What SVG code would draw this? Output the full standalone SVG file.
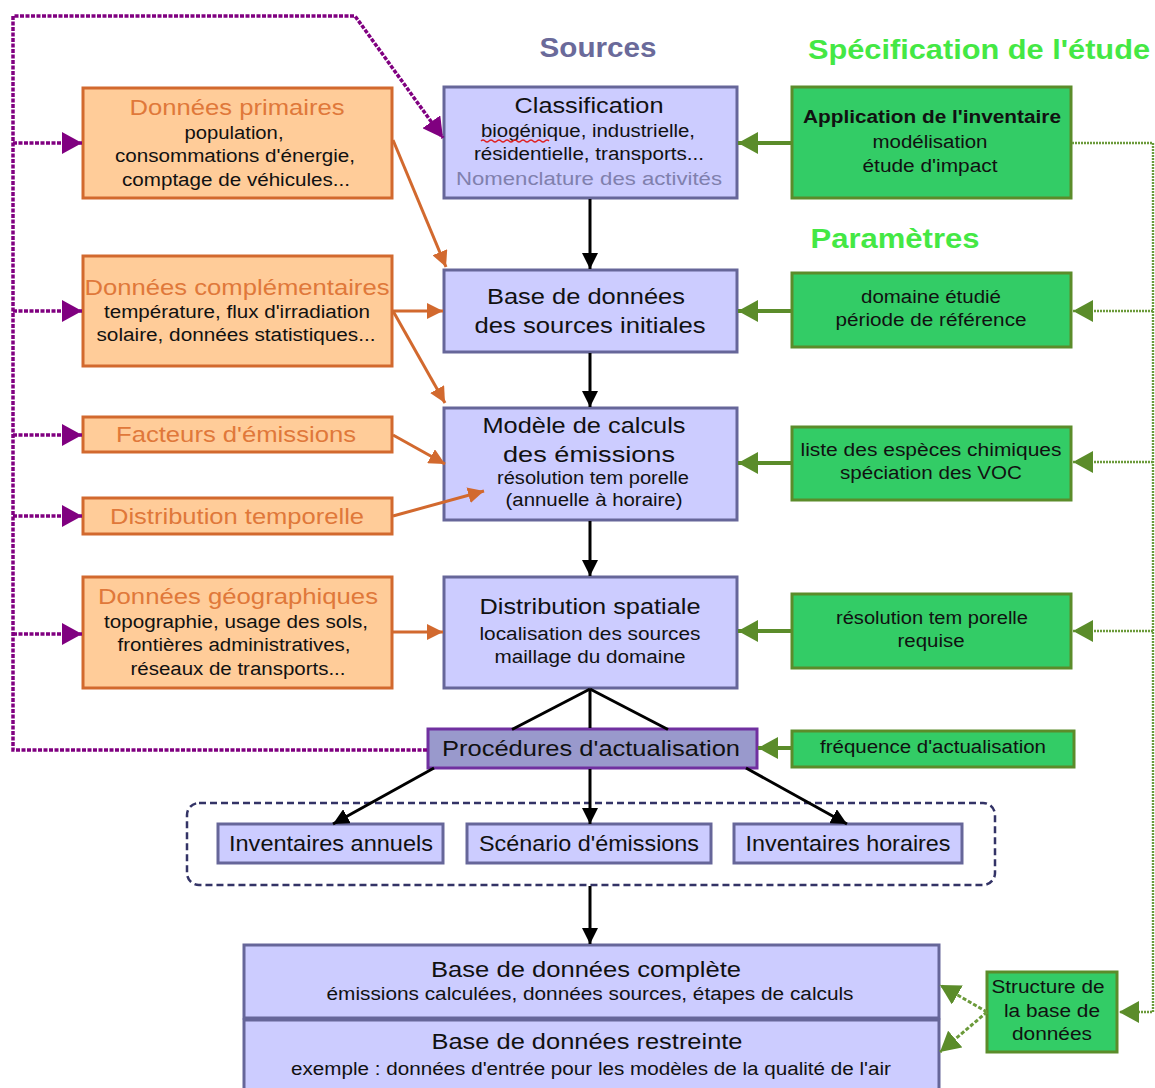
<svg xmlns="http://www.w3.org/2000/svg" width="1155" height="1088" viewBox="0 0 1155 1088">
<style>
text{font-family:"Liberation Sans",Arial,sans-serif;text-anchor:middle;fill:#111}
.ti{font-size:22px}
.sm{font-size:18px}
.ot{fill:#e0783a}
.orange{fill:#ffcc99;stroke:#d2692e;stroke-width:3}
.blue{fill:#ccccff;stroke:#666699;stroke-width:3}
.green{fill:#33cc66;stroke:#5b8c2a;stroke-width:3}
.pl{fill:none;stroke:#800080;stroke-width:3.5;stroke-dasharray:4 1.5}
.gl{fill:none;stroke:#6b9a3a;stroke-width:2.4;stroke-dasharray:2 1}
.ga{fill:none;stroke:#5b8c2a;stroke-width:4}
.ba{fill:none;stroke:#000;stroke-width:3}
.oa{fill:none;stroke:#d2692e;stroke-width:3}
.gd{fill:none;stroke:#6b9a3a;stroke-width:3;stroke-dasharray:4 2}
</style>
<defs>
<marker id="mp" markerUnits="userSpaceOnUse" markerWidth="20" markerHeight="22" refX="20" refY="11" orient="auto"><path d="M0,0 L20,11 L0,22 z" fill="#800080"/></marker>
<marker id="mg" markerUnits="userSpaceOnUse" markerWidth="20" markerHeight="22" refX="20" refY="11" orient="auto"><path d="M0,0 L20,11 L0,22 z" fill="#5b8c2a"/></marker>
<marker id="mb" markerUnits="userSpaceOnUse" markerWidth="16" markerHeight="16" refX="16" refY="8" orient="auto"><path d="M0,0 L16,8 L0,16 z" fill="#000"/></marker>
<marker id="mo" markerUnits="userSpaceOnUse" markerWidth="16" markerHeight="16" refX="16" refY="8" orient="auto"><path d="M0,0 L16,8 L0,16 z" fill="#d2692e"/></marker>
</defs>

<!-- headings -->
<text x="598" y="57" style="font-size:27px;font-weight:bold;fill:#6a6a9a" textLength="117" lengthAdjust="spacingAndGlyphs">Sources</text>
<text x="979" y="59" style="font-size:28px;font-weight:bold;fill:#44e844" textLength="342" lengthAdjust="spacingAndGlyphs">Spécification de l'étude</text>
<text x="895" y="248" style="font-size:27px;font-weight:bold;fill:#44e844" textLength="169" lengthAdjust="spacingAndGlyphs">Paramètres</text>

<!-- orange nodes -->
<g id="donnees-primaires">
<rect class="orange" x="83" y="88" width="309" height="110"/>
<text class="ti ot" x="237" y="115" textLength="215" lengthAdjust="spacingAndGlyphs">Données primaires</text>
<text class="sm" x="234" y="139" textLength="99" lengthAdjust="spacingAndGlyphs">population,</text>
<text class="sm" x="235" y="162" textLength="240" lengthAdjust="spacingAndGlyphs">consommations d'énergie,</text>
<text class="sm" x="236" y="186" textLength="228" lengthAdjust="spacingAndGlyphs">comptage de véhicules...</text>
</g>
<g id="donnees-complementaires">
<rect class="orange" x="83" y="256" width="309" height="110"/>
<text class="ti ot" x="237" y="295" textLength="305" lengthAdjust="spacingAndGlyphs">Données complémentaires</text>
<text class="sm" x="237" y="318" textLength="266" lengthAdjust="spacingAndGlyphs">température, flux d'irradiation</text>
<text class="sm" x="236" y="341" textLength="279" lengthAdjust="spacingAndGlyphs">solaire, données statistiques...</text>
</g>
<g id="facteurs">
<rect class="orange" x="83" y="417" width="309" height="35"/>
<text class="ti ot" x="236" y="442" textLength="240" lengthAdjust="spacingAndGlyphs">Facteurs d'émissions</text>
</g>
<g id="distribution-temporelle">
<rect class="orange" x="83" y="498" width="309" height="36"/>
<text class="ti ot" x="237" y="524" textLength="254" lengthAdjust="spacingAndGlyphs">Distribution temporelle</text>
</g>
<g id="donnees-geographiques">
<rect class="orange" x="83" y="577" width="309" height="111"/>
<text class="ti ot" x="238" y="604" textLength="280" lengthAdjust="spacingAndGlyphs">Données géographiques</text>
<text class="sm" x="236" y="628" textLength="264" lengthAdjust="spacingAndGlyphs">topographie, usage des sols,</text>
<text class="sm" x="234" y="651" textLength="233" lengthAdjust="spacingAndGlyphs">frontières administratives,</text>
<text class="sm" x="238" y="675" textLength="215" lengthAdjust="spacingAndGlyphs">réseaux de transports...</text>
</g>

<!-- blue nodes -->
<g id="classification">
<rect class="blue" x="444" y="87" width="293" height="111"/>
<text class="ti" x="589" y="113" textLength="149" lengthAdjust="spacingAndGlyphs">Classification</text>
<text class="sm" x="588" y="137" textLength="214" lengthAdjust="spacingAndGlyphs">biogénique, industrielle,</text>
<path d="M481,141 q2,-2 4,0 t4,0 t4,0 t4,0 t4,0 t4,0 t4,0 t4,0 t4,0 t4,0 t4,0 t4,0 t4,0 t4,0 t4,0 t4,0 t4,0" fill="none" stroke="#e02020" stroke-width="1.3"/>
<text class="sm" x="589" y="160" textLength="230" lengthAdjust="spacingAndGlyphs">résidentielle, transports...</text>
<text class="sm" x="589" y="185" style="fill:#8080ad" textLength="266" lengthAdjust="spacingAndGlyphs">Nomenclature des activités</text>
</g>
<g id="base-sources">
<rect class="blue" x="444" y="270" width="293" height="82"/>
<text class="ti" x="586" y="304" textLength="198" lengthAdjust="spacingAndGlyphs">Base de données</text>
<text class="ti" x="590" y="333" textLength="231" lengthAdjust="spacingAndGlyphs">des sources initiales</text>
</g>
<g id="modele-calculs">
<rect class="blue" x="444" y="408" width="293" height="112"/>
<text class="ti" x="584" y="433" textLength="203" lengthAdjust="spacingAndGlyphs">Modèle de calculs</text>
<text class="ti" x="589" y="462" textLength="172" lengthAdjust="spacingAndGlyphs">des  émissions</text>
<text class="sm" x="593" y="484" textLength="192" lengthAdjust="spacingAndGlyphs">résolution tem porelle</text>
<text class="sm" x="594" y="506" textLength="177" lengthAdjust="spacingAndGlyphs">(annuelle à horaire)</text>
</g>
<g id="distribution-spatiale">
<rect class="blue" x="444" y="577" width="293" height="111"/>
<text class="ti" x="590" y="614" textLength="221" lengthAdjust="spacingAndGlyphs">Distribution spatiale</text>
<text class="sm" x="590" y="640" textLength="221" lengthAdjust="spacingAndGlyphs">localisation des sources</text>
<text class="sm" x="590" y="663" textLength="191" lengthAdjust="spacingAndGlyphs">maillage du domaine</text>
</g>
<g id="procedures">
<rect x="428" y="729" width="329" height="39" style="fill:#9999cc;stroke:#7030a0;stroke-width:3"/>
<text class="ti" x="591" y="756" textLength="298" lengthAdjust="spacingAndGlyphs">Procédures d'actualisation</text>
</g>
<g id="sorties">
<rect x="187" y="803" width="808" height="82" rx="12" ry="12" style="fill:none;stroke:#333366;stroke-width:2.5;stroke-dasharray:7 4"/>
<g id="inventaires-annuels">
<rect class="blue" x="218" y="824" width="225" height="39"/>
<text class="ti" x="331" y="851" textLength="204" lengthAdjust="spacingAndGlyphs">Inventaires annuels</text>
</g>
<g id="scenario">
<rect class="blue" x="467" y="824" width="244" height="39"/>
<text class="ti" x="589" y="851" textLength="220" lengthAdjust="spacingAndGlyphs">Scénario d'émissions</text>
</g>
<g id="inventaires-horaires">
<rect class="blue" x="734" y="824" width="228" height="39"/>
<text class="ti" x="848" y="851" textLength="205" lengthAdjust="spacingAndGlyphs">Inventaires horaires</text>
</g>
</g>
<g id="base-complete">
<rect class="blue" x="244" y="945" width="695" height="73"/>
<text class="ti" x="586" y="977" textLength="310" lengthAdjust="spacingAndGlyphs">Base de données complète</text>
<text class="sm" x="590" y="1000" textLength="527" lengthAdjust="spacingAndGlyphs">émissions calculées, données sources, étapes de calculs</text>
</g>
<g id="base-restreinte">
<rect class="blue" x="244" y="1020" width="695" height="72"/>
<text class="ti" x="587" y="1049" textLength="311" lengthAdjust="spacingAndGlyphs">Base de données restreinte</text>
<text class="sm" x="591" y="1075" textLength="600" lengthAdjust="spacingAndGlyphs">exemple : données d'entrée pour les modèles de la qualité de l'air</text>
</g>

<!-- green nodes -->
<g id="application">
<rect class="green" x="792" y="87" width="279" height="111"/>
<text class="sm" x="932" y="123" style="font-weight:bold" textLength="258" lengthAdjust="spacingAndGlyphs">Application de l'inventaire</text>
<text class="sm" x="930" y="148" textLength="115" lengthAdjust="spacingAndGlyphs">modélisation</text>
<text class="sm" x="930" y="172" textLength="135" lengthAdjust="spacingAndGlyphs">étude d'impact</text>
</g>
<g id="domaine">
<rect class="green" x="792" y="273" width="279" height="74"/>
<text class="sm" x="931" y="303" textLength="140" lengthAdjust="spacingAndGlyphs">domaine étudié</text>
<text class="sm" x="931" y="326" textLength="191" lengthAdjust="spacingAndGlyphs">période de référence</text>
</g>
<g id="especes">
<rect class="green" x="792" y="427" width="279" height="73"/>
<text class="sm" x="931" y="456" textLength="261" lengthAdjust="spacingAndGlyphs">liste des espèces chimiques</text>
<text class="sm" x="931" y="479" textLength="182" lengthAdjust="spacingAndGlyphs">spéciation des VOC</text>
</g>
<g id="resolution-requise">
<rect class="green" x="792" y="594" width="279" height="74"/>
<text class="sm" x="932" y="624" textLength="192" lengthAdjust="spacingAndGlyphs">résolution tem porelle</text>
<text class="sm" x="931" y="647" textLength="67" lengthAdjust="spacingAndGlyphs">requise</text>
</g>
<g id="frequence">
<rect class="green" x="792" y="731" width="282" height="36"/>
<text class="sm" x="933" y="753" textLength="226" lengthAdjust="spacingAndGlyphs">fréquence d'actualisation</text>
</g>
<g id="structure">
<rect class="green" x="987" y="972" width="130" height="80"/>
<text class="sm" x="1048" y="993" textLength="113" lengthAdjust="spacingAndGlyphs">Structure de</text>
<text class="sm" x="1052" y="1017" textLength="96" lengthAdjust="spacingAndGlyphs">la base de</text>
<text class="sm" x="1052" y="1040" textLength="80" lengthAdjust="spacingAndGlyphs">données</text>
</g>

<g id="connectors">
<!-- purple feedback -->
<path class="pl" d="M427,750 H13 V16 H355 L443,138" marker-end="url(#mp)"/>
<path class="pl" d="M13,143 H82" marker-end="url(#mp)"/>
<path class="pl" d="M13,311 H82" marker-end="url(#mp)"/>
<path class="pl" d="M13,435 H82" marker-end="url(#mp)"/>
<path class="pl" d="M13,516 H82" marker-end="url(#mp)"/>
<path class="pl" d="M13,634 H82" marker-end="url(#mp)"/>
<!-- green dotted -->
<path class="gl" d="M1072,143 H1153 V1012 H1119" marker-end="url(#mg)"/>
<path class="gl" d="M1153,311 H1073" marker-end="url(#mg)"/>
<path class="gl" d="M1153,462 H1073" marker-end="url(#mg)"/>
<path class="gl" d="M1153,631 H1073" marker-end="url(#mg)"/>
<!-- green solid -->
<path class="ga" d="M791,143 H738" marker-end="url(#mg)"/>
<path class="ga" d="M791,311 H738" marker-end="url(#mg)"/>
<path class="ga" d="M791,463 H738" marker-end="url(#mg)"/>
<path class="ga" d="M791,631 H738" marker-end="url(#mg)"/>
<path class="ga" d="M791,748 H758" marker-end="url(#mg)"/>
<path class="gd" d="M987,1012 L940,985" marker-end="url(#mg)"/>
<path class="gd" d="M987,1012 L940,1052" marker-end="url(#mg)"/>
<!-- orange -->
<path class="oa" d="M393,140 L446,267" marker-end="url(#mo)"/>
<path class="oa" d="M393,311 H443" marker-end="url(#mo)"/>
<path class="oa" d="M393,311 L445,403" marker-end="url(#mo)"/>
<path class="oa" d="M393,435 L445,464" marker-end="url(#mo)"/>
<path class="oa" d="M393,516 L484,491" marker-end="url(#mo)"/>
<path class="oa" d="M393,632 H443" marker-end="url(#mo)"/>
<!-- black -->
<path class="ba" d="M590,199 V269" marker-end="url(#mb)"/>
<path class="ba" d="M590,353 V407" marker-end="url(#mb)"/>
<path class="ba" d="M590,521 V576" marker-end="url(#mb)"/>
<path class="ba" d="M590,689 L512,729.5"/>
<path class="ba" d="M434,768 L333,824" marker-end="url(#mb)"/>
<path class="ba" d="M590,689 V728"/>
<path class="ba" d="M590,769 V824" marker-end="url(#mb)"/>
<path class="ba" d="M590,689 L668,729.5"/>
<path class="ba" d="M746,768 L847,824" marker-end="url(#mb)"/>
<path class="ba" d="M590,886 V944" marker-end="url(#mb)"/>
</g>
</svg>
